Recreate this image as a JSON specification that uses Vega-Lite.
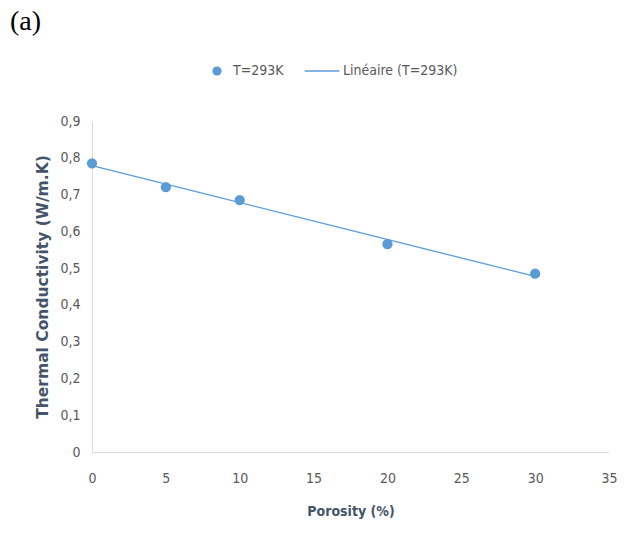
{
  "$schema": "https://vega.github.io/schema/vega-lite/v6.json",
  "autosize": "none",
  "width": 517,
  "height": 331,
  "padding": {"left": 92, "top": 121, "right": 20, "bottom": 97},
  "background": "white",
  "title": {
    "text": "(a)",
    "anchor": "start",
    "frame": "group",
    "dx": -82,
    "offset": 28,
    "font": "Liberation Serif",
    "fontSize": 28,
    "fontWeight": "normal",
    "color": "black"
  },
  "data": {
    "values": [
      {"porosity": 0, "k": 0.785},
      {"porosity": 5, "k": 0.72},
      {"porosity": 10, "k": 0.685},
      {"porosity": 20, "k": 0.565},
      {"porosity": 30, "k": 0.485}
    ]
  },
  "layer": [
    {
      "transform": [
        {"regression": "k", "on": "porosity", "method": "linear"},
        {"calculate": "'Linéaire (T=293K)'", "as": "series"}
      ],
      "mark": {"type": "line", "strokeWidth": 1.3},
      "encoding": {
        "x": {"field": "porosity", "type": "quantitative"},
        "y": {"field": "k", "type": "quantitative"},
        "color": {"field": "series", "type": "nominal"}
      }
    },
    {
      "transform": [{"calculate": "'T=293K'", "as": "series"}],
      "mark": {"type": "point", "filled": true, "size": 105, "opacity": 1},
      "encoding": {
        "x": {"field": "porosity", "type": "quantitative"},
        "y": {"field": "k", "type": "quantitative"},
        "color": {"field": "series", "type": "nominal"}
      }
    }
  ],
  "encoding": {
    "x": {
      "field": "porosity",
      "type": "quantitative",
      "title": "Porosity (%)",
      "scale": {"domain": [0, 35], "nice": false},
      "axis": {"values": [0, 5, 10, 15, 20, 25, 30, 35]}
    },
    "y": {
      "field": "k",
      "type": "quantitative",
      "title": "Thermal Conductivity (W/m.K)",
      "scale": {"domain": [0, 0.9], "nice": false},
      "axis": {
        "values": [0, 0.1, 0.2, 0.3, 0.4, 0.5, 0.6, 0.7, 0.8, 0.9],
        "labelExpr": "datum.value === 0 ? '0' : replace(format(datum.value, '.1f'), '.', ',')"
      }
    },
    "color": {
      "field": "series",
      "type": "nominal",
      "scale": {"domain": ["T=293K", "Linéaire (T=293K)"], "range": ["#5b9bd5", "#5b9bd5"]},
      "legend": {
        "title": null,
        "orient": "none",
        "direction": "horizontal",
        "legendX": 118,
        "legendY": -57,
        "columnPadding": 18,
        "symbolOffset": 0,
        "labelOffset": 9,
        "encode": {
          "symbols": {
            "update": {
              "shape": {"signal": "datum.value === 'T=293K' ? 'circle' : 'stroke'"},
              "size": {"signal": "datum.value === 'T=293K' ? 85 : 1200"},
              "fill": {"signal": "datum.value === 'T=293K' ? '#5b9bd5' : 'transparent'"},
              "stroke": {"value": "#5b9bd5"},
              "strokeWidth": {"signal": "datum.value === 'T=293K' ? 0 : 1.3"},
              "opacity": {"value": 1}
            }
          },
          "labels": {
            "update": {
              "dx": {"signal": "datum.value === 'T=293K' ? 0 : 5"}
            }
          }
        }
      }
    }
  },
  "config": {
    "font": "DejaVu Sans Condensed",
    "view": {"stroke": null},
    "axis": {
      "grid": false,
      "ticks": false,
      "domainColor": "#d9d9d9",
      "domainWidth": 1,
      "labelFont": "DejaVu Sans Condensed",
      "labelFontSize": 14,
      "labelColor": "#595959",
      "titleFont": "DejaVu Sans Condensed",
      "titleFontSize": 14,
      "titleFontWeight": "bold",
      "titleColor": "#44546a"
    },
    "axisX": {"labelPadding": 19, "titlePadding": 19, "labelFlush": false},
    "axisY": {
      "labelPadding": 12,
      "titlePadding": 9,
      "domain": true,
      "titleFont": "DejaVu Sans",
      "titleFontSize": 15.5
    },
    "legend": {
      "labelFont": "DejaVu Sans Condensed",
      "labelFontSize": 14,
      "labelColor": "#595959"
    }
  }
}
